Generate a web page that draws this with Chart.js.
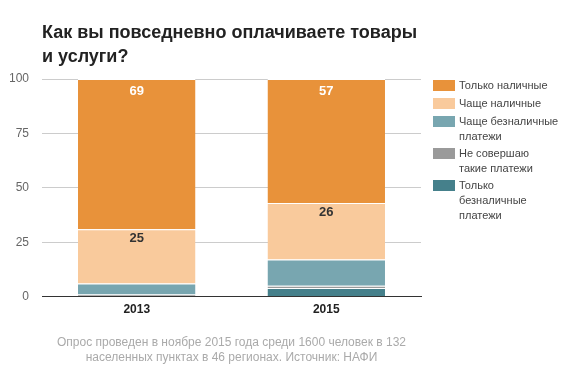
<!DOCTYPE html>
<html>
<head>
<meta charset="utf-8">
<script src="https://cdn.jsdelivr.net/npm/chart.js@4"></script>
<style>
    html, body { margin: 0; padding: 0; background: #fff; }
    #wrap { position: relative; width: 571px; height: 381px; font-family: "Liberation Sans", Arial, sans-serif; }
    #title { position: absolute; left: 42px; top: 20px; font-size: 18px; font-weight: bold; line-height: 24px; color: #222; }
    #legend { position: absolute; left: 433px; top: 78px; font-size: 11px; color: #444; line-height: 15px; }
    #legend .item { position: relative; padding-left: 26px; margin-bottom: 2px; }
    #legend .item.single { margin-bottom: 3px; }
    #legend .box { position: absolute; left: 0; top: 2px; width: 22px; height: 11px; }
    #footer { position: absolute; left: 42px; width: 379px; top: 335px; text-align: center; font-size: 12px; line-height: 15px; color: #aaa; }
    canvas { position: absolute; left: 0; top: 0; }
</style>
</head>
<body>
<div id="wrap">
    <canvas id="payChart" width="571" height="381"></canvas>
    <div id="title">Как вы повседневно оплачиваете товары<br>и услуги?</div>
    <div id="legend"></div>
    <div id="footer">Опрос проведен в ноябре 2015 года среди 1600 человек в 132<br>населенных пунктах в 46 регионах. Источник: НАФИ</div>
</div>
<script>
const years = ["2013", "2015"];
const onlyCashless = [0, 4];
const noPayments = [1, 1];
const mostlyCashless = [5, 12];
const mostlyCash = [25, 26];
const onlyCash = [69, 57];
const yTicks = [0, 25, 50, 75, 100];

// bottom to top
const series = [
    { label: ["Только", "безналичные", "платежи"], data: onlyCashless, color: "#45808b" },
    { label: ["Не совершаю", "такие платежи"], data: noPayments, color: "#9a9a9a" },
    { label: ["Чаще безналичные", "платежи"], data: mostlyCashless, color: "#78a6b0" },
    { label: ["Чаще наличные"], data: mostlyCash, color: "#f9ca9c", showValue: true, valueColor: "#333", valueOffset: 3 },
    { label: ["Только наличные"], data: onlyCash, color: "#e8923a", showValue: true, valueColor: "#fff", valueOffset: 6 },
];

const legendEl = document.getElementById("legend");
series.slice().reverse().forEach((s) => {
    const item = document.createElement("div");
    item.className = s.label.length === 1 ? "item single" : "item";
    item.innerHTML = `<span class="box" style="background:${s.color}"></span>` + s.label.join("<br>");
    legendEl.appendChild(item);
});

const valueLabels = {
    id: "valueLabels",
    afterDatasetsDraw(chart) {
        const ctx = chart.ctx;
        ctx.save();
        ctx.font = "bold 13px 'Liberation Sans', Arial, sans-serif";
        ctx.textAlign = "center";
        ctx.textBaseline = "top";
        chart.data.datasets.forEach((ds, i) => {
            const s = series[i];
            if (!s.showValue) return;
            chart.getDatasetMeta(i).data.forEach((bar, j) => {
                ctx.fillStyle = s.valueColor;
                ctx.fillText(ds.data[j], bar.x, bar.y + s.valueOffset);
            });
        });
        ctx.restore();
    },
};

const ctx = document.getElementById("payChart").getContext("2d");
new Chart(ctx, {
    type: "bar",
    data: {
        labels: years,
        datasets: series.map((s) => ({
            label: s.label.join(" "),
            data: s.data,
            backgroundColor: s.color,
            borderColor: "#fff",
            borderWidth: { top: 1, bottom: 0, left: 0, right: 0 },
            borderSkipped: false,
            categoryPercentage: 1,
            barPercentage: 0.62,
        })),
    },
    options: {
        responsive: false,
        animation: false,
        layout: { padding: { top: 79, left: 10, right: 150, bottom: 58 } },
        scales: {
            x: {
                stacked: true,
                grid: { display: false, drawTicks: false },
                border: { color: "#333", width: 1 },
                ticks: {
                    color: "#222",
                    padding: 6,
                    font: { size: 12, weight: "bold", family: "'Liberation Sans', Arial, sans-serif" },
                },
            },
            y: {
                stacked: true,
                min: 0,
                max: 100,
                afterBuildTicks: (axis) => { axis.ticks = yTicks.map((v) => ({ value: v })); },
                afterFit: (axis) => { axis.width = 32; },
                grid: { color: "#ccc", drawTicks: false },
                border: { display: false },
                ticks: {
                    color: "#666",
                    padding: 13,
                    font: { size: 12, family: "'Liberation Sans', Arial, sans-serif" },
                },
            },
        },
        plugins: {
            legend: { display: false },
            tooltip: { enabled: false },
        },
    },
    plugins: [valueLabels],
});
</script>
</body>
</html>
